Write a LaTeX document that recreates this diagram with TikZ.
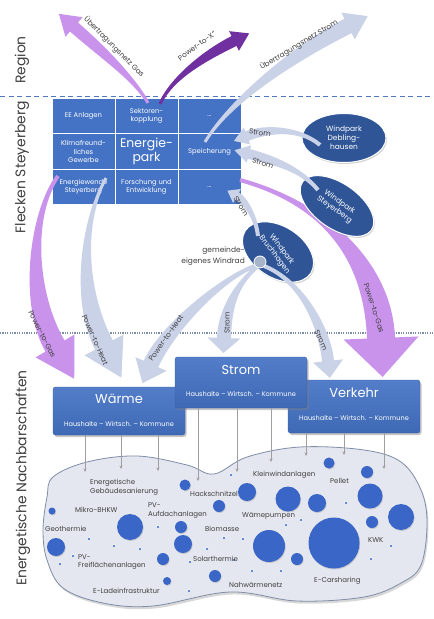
\documentclass[tikz,border=0pt]{standalone}
\usepackage{fontspec}
\setmainfont{Poppins}
\usetikzlibrary{calc,shadows,arrows.meta,shapes.geometric}
\definecolor{boxblue}{HTML}{4472C4}
\definecolor{darkblue}{HTML}{2F5597}
\definecolor{lav}{HTML}{CAD2E8}
\definecolor{lilac}{HTML}{C993EC}
\definecolor{pviolet}{HTML}{7030A0}
\definecolor{txt}{HTML}{404040}
\definecolor{blobfill}{HTML}{E4E7EF}
\definecolor{blobline}{HTML}{7F8DA6}
\definecolor{bubble}{HTML}{3A66C8}
\definecolor{windgray}{HTML}{A5B4C8}
\definecolor{dashblue}{HTML}{4F78BE}
\definecolor{dotgray}{HTML}{7D8CA8}
% tapered arrow: colour, start, control1, control2, head base, half width start, half width end, half head width, head length
\newcommand\taperarrow[9]{%
  \fill[#1] ($(#2)!#6!90:(#3)$)
    .. controls ($(#3)!#6!-90:(#2)$) and ($(#4)!#7!90:(#5)$) .. ($(#5)!#7!-90:(#4)$)
    -- ($(#5)!#8!-90:(#4)$) -- ($(#5)!#9!180:(#4)$) -- ($(#5)!#8!90:(#4)$)
    -- ($(#5)!#7!90:(#4)$)
    .. controls ($(#4)!#7!-90:(#5)$) and ($(#3)!#6!90:(#2)$) .. ($(#2)!#6!-90:(#3)$)
    -- cycle;}
\newcommand\stk[1]{\begin{tabular}{@{}c@{}}#1\end{tabular}}
\begin{document}
\begin{tikzpicture}[x=1bp,y=-1bp,
  cell/.style={rectangle, fill=boxblue, draw=white, line width=1pt, minimum width=63bp, minimum height=35.5bp, text=white, align=center, font=\fontsize{6.8}{8.3}\selectfont, inner sep=1pt},
  wp/.style={ellipse, fill=darkblue, draw=white, line width=1pt, text=white, align=center, inner sep=0pt, font=\fontsize{7.5}{9}\selectfont, drop shadow={opacity=.35, shadow xshift=1bp, shadow yshift=-1.5bp}},
  catbox/.style={rectangle, rounded corners=2.5bp, top color=boxblue!92!white, bottom color=boxblue!92!black, draw=boxblue!85!black, line width=.4pt, minimum width=132bp, drop shadow={opacity=.45, shadow xshift=1.5bp, shadow yshift=-2bp}},
  boxtitle/.style={text=white, font=\fontsize{13}{15}\selectfont, inner sep=0pt},
  boxsub/.style={text=white, font=\fontsize{6.6}{8}\selectfont, inner sep=0pt},
  alab/.style={text=txt, font=\fontsize{7.3}{9}\selectfont, inner sep=0pt},
  blab/.style={text=txt, font=\fontsize{7}{9}\selectfont, inner sep=0pt, anchor=west, align=left},
  side/.style={text=txt, font=\fontsize{14}{16}\selectfont, rotate=90, inner sep=0pt},
  feed/.style={draw=gray!75, line width=.5pt, -{Stealth[length=3.5bp,width=3bp]}},
  bub/.style={circle, fill=bubble, inner sep=0pt, drop shadow={opacity=.3, shadow xshift=.7bp, shadow yshift=-1bp}},
  smalldot/.style={circle, fill=bubble, draw=white, line width=.5pt, inner sep=0pt, minimum size=3.5bp}
]
\fill[white] (0,0) rectangle (434,619);
\useasboundingbox (0,0) rectangle (434,619);

% separators
\draw[dashblue, line width=1.1bp, dash pattern=on 5bp off 3.5bp] (0,96.5) -- (434,96.5);
\draw[dotgray, line width=1.1bp, dash pattern=on 1.2bp off 1.2bp] (0,333) -- (434,333);

% side labels
\node[side] (region) at (22,60) {Region};
\node[side] (flecken) at (22,167) {Flecken Steyerberg};
\node[side] (nachb) at (23,478) {Energetische Nachbarschaften};

% grid
\node[cell] (c11) at (83.5,116) {EE Anlagen};
\node[cell] (c12) at (146.5,116) {Sektoren-\\kopplung};
\node[cell] (c13) at (209.5,116) {...};
\node[cell] (c21) at (83.5,151.5) {Klimafreund-\\liches\\Gewerbe};
\node[cell, font=\fontsize{12.5}{14}\selectfont] (c22) at (146.5,151.5) {Energie-\\park};
\node[cell] (c23) at (209.5,151.5) {Speicherung};
\node[cell] (c31) at (83.5,187) {Energiewende\\Steyerberg};
\node[cell] (c32) at (146.5,187) {Forschung und\\Entwicklung};
\node[cell] (c33) at (209.5,187) {...};

% arrow geometry
\coordinate (a1s) at (148,103); \coordinate (a1c) at (135,80); \coordinate (a1d) at (106,55); \coordinate (a1e) at (74,27);
\coordinate (a2s) at (160,104); \coordinate (a2c) at (172,77); \coordinate (a2d) at (208,54); \coordinate (a2e) at (234,41);
\coordinate (a3s) at (205,142); \coordinate (a3c) at (230,100); \coordinate (a3d) at (300,50); \coordinate (a3e) at (348,26);
\coordinate (a4s) at (320,145); \coordinate (a4c) at (300,128); \coordinate (a4d) at (268,128); \coordinate (a4e) at (247,136);
\coordinate (a5s) at (318,190); \coordinate (a5c) at (300,168); \coordinate (a5d) at (272,160); \coordinate (a5e) at (249,154);
\coordinate (a6s) at (258,236); \coordinate (a6c) at (256,218); \coordinate (a6d) at (246,201); \coordinate (a6e) at (237,196);
\coordinate (a7s) at (240,180); \coordinate (a7c) at (330,205); \coordinate (a7d) at (378,265); \coordinate (a7e) at (381,338);
\coordinate (a8s) at (58,176); \coordinate (a8c) at (30,215); \coordinate (a8d) at (28,300); \coordinate (a8e) at (55,346);
\coordinate (a9s) at (106,178); \coordinate (a9c) at (80,225); \coordinate (a9d) at (80,300); \coordinate (a9e) at (104,345);
\coordinate (b1s) at (258,265); \coordinate (b1c) at (225,275); \coordinate (b1d) at (167,328); \coordinate (b1e) at (151,364);
\coordinate (b2s) at (258,266); \coordinate (b2c) at (235,285); \coordinate (b2d) at (225,310); \coordinate (b2e) at (224,338);
\coordinate (b3s) at (264,266); \coordinate (b3c) at (300,280); \coordinate (b3d) at (324,325); \coordinate (b3e) at (328,361);

% outgoing arrows
\taperarrow{lilac}{a1s}{a1c}{a1d}{a1e}{1.5bp}{6bp}{13bp}{20bp}
\taperarrow{pviolet}{a2s}{a2c}{a2d}{a2e}{1.5bp}{5.5bp}{11bp}{17bp}
\taperarrow{lav}{a3s}{a3c}{a3d}{a3e}{1.5bp}{8bp}{15bp}{22bp}
% down arrows
\taperarrow{lilac}{a7s}{a7c}{a7d}{a7e}{2bp}{14bp}{37.5bp}{39bp}
\taperarrow{lilac}{a8s}{a8c}{a8d}{a8e}{2bp}{11bp}{22.5bp}{38bp}
\taperarrow{lav}{a9s}{a9c}{a9d}{a9e}{1.5bp}{10bp}{22bp}{37bp}

% wind parks
\node[wp, minimum width=84bp, minimum height=49bp] (deb) at (344,138) {Windpark\\Debling-\\hausen};
\node[wp, rotate=-35, minimum width=84bp, minimum height=45bp] (stey) at (337,206) {Windpark\\Steyerberg};
\node[wp, rotate=-33, minimum width=78bp, minimum height=51bp] (bruch) at (278,252) {\rotatebox{-20}{\stk{Windpark\\Bruchhagen}}};

% Strom arrows into the park
\taperarrow{lav}{a4s}{a4c}{a4d}{a4e}{2bp}{5bp}{9bp}{14bp}
\taperarrow{lav}{a5s}{a5c}{a5d}{a5e}{2bp}{5bp}{9bp}{15bp}
\taperarrow{lav}{a6s}{a6c}{a6d}{a6e}{2bp}{4bp}{8bp}{11bp}
% arrows from the municipal turbine
\taperarrow{lav}{b1s}{b1c}{b1d}{b1e}{2bp}{8bp}{17bp}{21bp}
\taperarrow{lav}{b2s}{b2c}{b2d}{b2e}{2bp}{7bp}{16.5bp}{15bp}
\taperarrow{lav}{b3s}{b3c}{b3d}{b3e}{2bp}{6bp}{15bp}{17bp}

\node[circle, fill=windgray, draw=white, line width=.8pt, minimum size=12bp, inner sep=0pt] (wr) at (260,262) {};
\node[anchor=east, align=right, text=txt, font=\fontsize{7.5}{11}\selectfont, inner sep=0pt] (wrlab) at (245,256) {gemeinde-\\eigenes Windrad};

% arrow labels
\node[alab, rotate=-45] (l1) at (114,47) {Übertragungsnetz Gas};
\node[alab, rotate=36] (l2) at (197,46) {Power-to-X“};
\node[alab, rotate=31] (l3) at (299,45) {Übertragungsnetz Strom};
\node[alab, rotate=-8] (l4) at (260,133) {Strom};
\node[alab, rotate=-18] (l5) at (263,163) {Strom};
\node[alab, rotate=-58] (l6) at (241,206) {Strom};
\node[alab, rotate=-72] (l7) at (374,308) {Power-to-Gas};
\node[alab, rotate=-63] (l8) at (42,334) {Power-to-Gas};
\node[alab, rotate=-66] (l9) at (95,340) {Power-to-Heat};
\node[alab, rotate=55] (l10) at (166,338) {Power-to-Heat};
\node[alab, rotate=90] (l11) at (227,323) {Strom};
\node[alab, rotate=-65] (l12) at (321,340) {Strom};

% neighbourhood blob
\path[fill=blobfill, draw=blobline, line width=.8pt, drop shadow={opacity=.3, shadow xshift=1.5bp, shadow yshift=-2.5bp}]
  plot[smooth cycle, tension=.6] coordinates {(53,477) (87,462) (137,456) (187,465) (214,474) (247,457) (300,447) (364,450) (401,462) (421,490) (427,523) (421,565) (401,583) (364,597) (297,601) (230,592) (153,606) (103,603) (63,588) (47,560) (43,530) (47,497)};

\foreach \x/\y/\r [count=\i] in {52/511/3.5, 130/527/13, 56/547/9, 185/485/5.5, 219/506/6, 181/527/6, 183/544/9, 163/559/6, 215/576/6, 167/581/4,
  329/463/5.5, 367/472/6, 247/492/9, 288/499/12.5, 317/503/9, 370/496/12.5, 401/517/13, 372/522/6, 269/546/16, 334/543/25.5, 297/559/6}
  \node[bub, minimum size=2*\r*1bp] (bb\i) at (\x,\y) {};
\foreach \x/\y [count=\i] in {158/527, 89/539, 114/546, 140/549, 73/556, 60/564, 190/562, 189/591, 224/538, 207/549, 231/475,
  346/503, 286/525, 301/520, 243/539, 391/546, 371/559, 252/571, 281/571, 234/560}
  \node[smalldot] (sd\i) at (\x,\y) {};

\node[blab] (t1) at (90,487.5) {Energetische\\Gebäudesanierung};
\node[blab] (t2) at (75,510) {Mikro-BHKW};
\node[blab] (t3) at (45,529) {Geothermie};
\node[blab] (t4) at (148,510.5) {PV-\\Aufdachanlagen};
\node[blab] (t5) at (78,562) {PV-\\Freiflächenanlagen};
\node[blab] (t6) at (190,494) {Hackschnitzel};
\node[blab] (t7) at (205,529) {Biomasse};
\node[blab] (t8) at (193,559) {Solarthermie};
\node[blab] (t9) at (93,591) {E-Ladeinfrastruktur};
\node[blab] (t10) at (253,475) {Kleinwindanlagen};
\node[blab] (t11) at (330,481) {Pellet};
\node[blab] (t12) at (242,516) {Wämepumpen};
\node[blab] (t13) at (368,540) {KWK};
\node[blab] (t14) at (229,585) {Nahwärmenetz};
\node[blab] (t15) at (314,581) {E-Carsharing};

% category boxes
\node[catbox, minimum height=48bp] (waerme) at (119,411) {};
\node[boxtitle] (waermet) at (119,399) {Wärme};
\node[boxsub] (waermes) at (119,424) {Haushalte – Wirtsch. – Kommune};
\node[catbox, minimum height=53bp] (verkehr) at (354,406.5) {};
\node[boxtitle] (verkehrt) at (354,393) {Verkehr};
\node[boxsub] (verkehrs) at (354,418) {Haushalte – Wirtsch. – Kommune};
\node[catbox, minimum height=51bp] (strom) at (241,382.5) {};
\node[boxtitle] (stromt) at (241,370) {Strom};
\node[boxsub] (stroms) at (241,394) {Haushalte – Wirtsch. – Kommune};

% feeds into the neighbourhood
\coordinate (f1) at (85,472); \coordinate (f2) at (121,469); \coordinate (f3) at (158,471);
\coordinate (f4) at (198,481); \coordinate (f5) at (237,472); \coordinate (f6) at (271,462);
\coordinate (f7) at (306,456); \coordinate (f8) at (344,455); \coordinate (f9) at (384,469);
\draw[feed] (waerme.south -| f1) -- (f1);
\draw[feed] (waerme.south -| f2) -- (f2);
\draw[feed] (waerme.south -| f3) -- (f3);
\draw[feed] (strom.south -| f4) -- (f4);
\draw[feed] (strom.south -| f5) -- (f5);
\draw[feed] (strom.south -| f6) -- (f6);
\draw[feed] (verkehr.south -| f7) -- (f7);
\draw[feed] (verkehr.south -| f8) -- (f8);
\draw[feed] (verkehr.south -| f9) -- (f9);
\end{tikzpicture}
\end{document}
